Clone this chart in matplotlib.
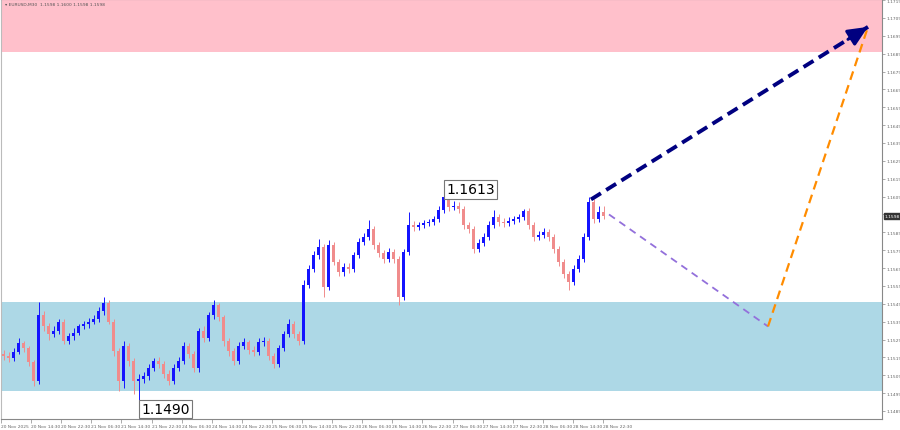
import matplotlib
matplotlib.use("Agg")
import matplotlib.pyplot as plt
import numpy as np

# ---------------- data ----------------
first_open = 1.15207
closes = [1.15196, 1.15185, 1.15218, 1.15268, 1.15241, 1.15163, 1.15057, 1.15429, 1.15363, 1.15318,
          1.15335, 1.15390, 1.15279, 1.15307, 1.15329, 1.15363, 1.15374, 1.15390, 1.15407, 1.15452,
          1.15496, 1.15390, 1.15224, 1.15057, 1.15252, 1.15168, 1.15057, 1.15068, 1.15085, 1.15129,
          1.15168, 1.15152, 1.15096, 1.15057, 1.15129, 1.15168, 1.15252, 1.15207, 1.15129, 1.15335,
          1.15296, 1.15429, 1.15485, 1.15418, 1.15279, 1.15224, 1.15168, 1.15252, 1.15274, 1.15230,
          1.15218, 1.15274, 1.15279, 1.15196, 1.15152, 1.15241, 1.15318, 1.15374, 1.15318, 1.15279,
          1.15596, 1.15685, 1.15763, 1.15807, 1.15585, 1.15818, 1.15724, 1.15668, 1.15696, 1.15685,
          1.15763, 1.15835, 1.15863, 1.15907, 1.15818, 1.15774, 1.15740, 1.15779, 1.15740, 1.15529,
          1.15779, 1.15929, 1.15918, 1.15929, 1.15940, 1.15946, 1.15963, 1.16013, 1.16085, 1.16029,
          1.16040, 1.16018, 1.15929, 1.15907, 1.15796, 1.15829, 1.15863, 1.15929, 1.15974, 1.15946,
          1.15940, 1.15952, 1.15963, 1.15974, 1.16007, 1.15929, 1.15863, 1.15874, 1.15890, 1.15863,
          1.15796, 1.15724, 1.15657, 1.15613, 1.15685, 1.15740, 1.15863, 1.16057, 1.15963, 1.16002,
          1.15980]
highs = [1.15230, 1.15218, 1.15241, 1.15296, 1.15279, 1.15252, 1.15174, 1.15502, 1.15452, 1.15385,
         1.15363, 1.15407, 1.15407, 1.15329, 1.15352, 1.15379, 1.15396, 1.15413, 1.15429, 1.15474,
         1.15529, 1.15513, 1.15407, 1.15241, 1.15279, 1.15268, 1.15185, 1.15096, 1.15107, 1.15152,
         1.15185, 1.15191, 1.15168, 1.15118, 1.15152, 1.15191, 1.15274, 1.15268, 1.15224, 1.15352,
         1.15363, 1.15446, 1.15513, 1.15496, 1.15429, 1.15296, 1.15241, 1.15274, 1.15296, 1.15290,
         1.15252, 1.15296, 1.15302, 1.15296, 1.15213, 1.15257, 1.15340, 1.15407, 1.15396, 1.15335,
         1.15624, 1.15707, 1.15785, 1.15852, 1.15824, 1.15846, 1.15835, 1.15740, 1.15718, 1.15718,
         1.15779, 1.15857, 1.15885, 1.15957, 1.15924, 1.15835, 1.15790, 1.15801, 1.15796, 1.15757,
         1.15796, 1.16002, 1.15952, 1.15946, 1.15957, 1.15963, 1.15979, 1.16035, 1.16130, 1.16102,
         1.16063, 1.16057, 1.16035, 1.15946, 1.15924, 1.15852, 1.15885, 1.15952, 1.16013, 1.15990,
         1.15968, 1.15974, 1.15979, 1.15990, 1.16018, 1.16024, 1.15946, 1.15896, 1.15913, 1.15907,
         1.15879, 1.15813, 1.15740, 1.15674, 1.15707, 1.15763, 1.15885, 1.16085, 1.16074, 1.16040,
         1.16040]
lows = [1.15174, 1.15163, 1.15168, 1.15207, 1.15218, 1.15140, 1.15029, 1.15040, 1.15340, 1.15290,
        1.15302, 1.15318, 1.15263, 1.15263, 1.15290, 1.15313, 1.15346, 1.15357, 1.15374, 1.15390,
        1.15429, 1.15374, 1.15196, 1.15002, 1.15018, 1.15140, 1.14985, 1.14900, 1.15046, 1.15063,
        1.15113, 1.15129, 1.15074, 1.15035, 1.15040, 1.15113, 1.15152, 1.15185, 1.15107, 1.15107,
        1.15274, 1.15279, 1.15407, 1.15396, 1.15252, 1.15196, 1.15146, 1.15152, 1.15235, 1.15207,
        1.15196, 1.15202, 1.15252, 1.15174, 1.15129, 1.15135, 1.15224, 1.15302, 1.15296, 1.15257,
        1.15263, 1.15579, 1.15668, 1.15740, 1.15529, 1.15568, 1.15707, 1.15646, 1.15646, 1.15663,
        1.15668, 1.15746, 1.15818, 1.15846, 1.15796, 1.15752, 1.15718, 1.15724, 1.15718, 1.15485,
        1.15513, 1.15763, 1.15896, 1.15901, 1.15913, 1.15924, 1.15929, 1.15946, 1.15996, 1.16007,
        1.16013, 1.15996, 1.15907, 1.15885, 1.15774, 1.15779, 1.15813, 1.15846, 1.15913, 1.15924,
        1.15918, 1.15924, 1.15935, 1.15946, 1.15957, 1.15907, 1.15840, 1.15846, 1.15857, 1.15840,
        1.15774, 1.15701, 1.15635, 1.15568, 1.15596, 1.15668, 1.15724, 1.15846, 1.15940, 1.15946,
        1.15963]

time_labels = ["20 Nov 2025", "20 Nov 14:30", "20 Nov 22:30", "21 Nov 06:30", "21 Nov 14:30",
               "21 Nov 22:30", "24 Nov 06:30", "24 Nov 14:30", "24 Nov 22:30", "25 Nov 06:30",
               "25 Nov 14:30", "25 Nov 22:30", "26 Nov 06:30", "26 Nov 14:30", "26 Nov 22:30",
               "27 Nov 06:30", "27 Nov 14:30", "27 Nov 22:30", "28 Nov 06:30", "28 Nov 14:30",
               "28 Nov 22:30"]

resistance_zone = (1.1690, 1.1725)
support_zone = (1.1500, 1.1550)

# forecast paths: (bar index, price)
bull_x = [117.5, 172.9]; bull_y = [1.16074, 1.17040]
corr_x = [121.1, 152.9]; corr_y = [1.15990, 1.15363]
alt_x = [152.9, 172.9];  alt_y = [1.15363, 1.17040]

high_mark = (88, 1.1613, "1.1613")
low_mark = (27, 1.1490, "1.1490")
title_text = "EURUSD,M30  1.1598 1.1600 1.1598 1.1598"
last_price = "1.1598"

# ---------------- figure ----------------
fig = plt.figure(figsize=(9, 4.31), dpi=100)
ax = fig.add_axes([1/900, 11/431, 881/900, 420/431])
ymin, ymax = 1.14845, 1.17196
ax.set_ylim(ymin, ymax)
ax.set_xlim(-0.5, 175.7)

ax.axhspan(resistance_zone[0], resistance_zone[1], color="pink", zorder=0, lw=0)
ax.axhspan(support_zone[0], support_zone[1], color="lightblue", zorder=0, lw=0)

n = len(closes)
x = np.arange(n)
c = np.array(closes)
o = np.array([first_open] + closes[:-1])
h = np.array(highs)
l = np.array(lows)
bull = c >= o
bull_col, bear_col = "#1414ff", "#f08c8c"
cols = np.where(bull, bull_col, bear_col)
ax.vlines(x, l, h, colors=cols, lw=0.7, zorder=2)
body_lo = np.minimum(o, c)
body_h = np.maximum(np.abs(c - o), 0.00003)
ax.bar(x, body_h, bottom=body_lo, width=0.42, color=cols, lw=0, zorder=3)

# forecast lines
ax.plot(corr_x, corr_y, ls=(0, (4, 3)), color="mediumpurple", lw=1.3, zorder=4)
ax.plot(alt_x, alt_y, ls=(0, (4, 2.5)), color="darkorange", lw=1.6, zorder=4)
ax.plot(bull_x, bull_y, ls=(0, (3, 1.6)), color="navy", lw=2.8, zorder=5,
        solid_capstyle="butt", dash_capstyle="butt")
ax.annotate("", xy=(bull_x[1], bull_y[1]),
            xytext=(bull_x[1] - 4, bull_y[1] - (bull_y[1] - bull_y[0]) * 4 / (bull_x[1] - bull_x[0])),
            arrowprops=dict(arrowstyle="-|>,head_length=1.0,head_width=0.45", color="navy",
                            lw=2.2, mutation_scale=12, shrinkA=0, shrinkB=0), zorder=6)

# extreme labels
for bx, by, txt in (high_mark, low_mark):
    ax.annotate(txt, xy=(bx, by), xytext=(2, 0), textcoords="offset points",
                ha="left", va="center", fontsize=10, color="black",
                bbox=dict(boxstyle="square,pad=0.15", fc="white", ec="#777", lw=0.8), zorder=7)

# title
ax.text(0.004, 0.992, "▾ " + title_text, transform=ax.transAxes, fontsize=3.2,
        color="#555", ha="left", va="top")

# axes styling
for s in ax.spines.values():
    s.set_color("#888")
    s.set_linewidth(0.8)
ax.spines["left"].set_color("#bbb")

yt = np.round(np.arange(1.1489, 1.1720, 0.001), 4)
ax.yaxis.tick_right()
ax.set_yticks(yt)
ax.set_yticklabels([f"{v:.4f}" for v in yt])
ax.tick_params(axis="y", direction="out", length=2, width=0.5, colors="#888",
               labelsize=3.2, labelcolor="#666", pad=1)

px_per_bar = 5.0
xt = [i * 30.1 / px_per_bar - 0.5 for i in range(len(time_labels))]
ax.set_xticks(xt)
ax.set_xticklabels(time_labels)
for lab in ax.get_xticklabels():
    lab.set_ha("left")
ax.tick_params(axis="x", direction="out", length=3, width=0.5, colors="#888",
               labelsize=3.2, labelcolor="#666", pad=0.5)

# current price tag
ax.annotate(last_price, xy=(1.0, closes[-1]), xycoords=("axes fraction", "data"),
            xytext=(2, 0), textcoords="offset points", ha="left", va="center",
            fontsize=3.2, color="white",
            bbox=dict(boxstyle="square,pad=0.2", fc="#333", ec="#333"), annotation_clip=False)

fig.savefig("out.png", dpi=100, facecolor="white")
